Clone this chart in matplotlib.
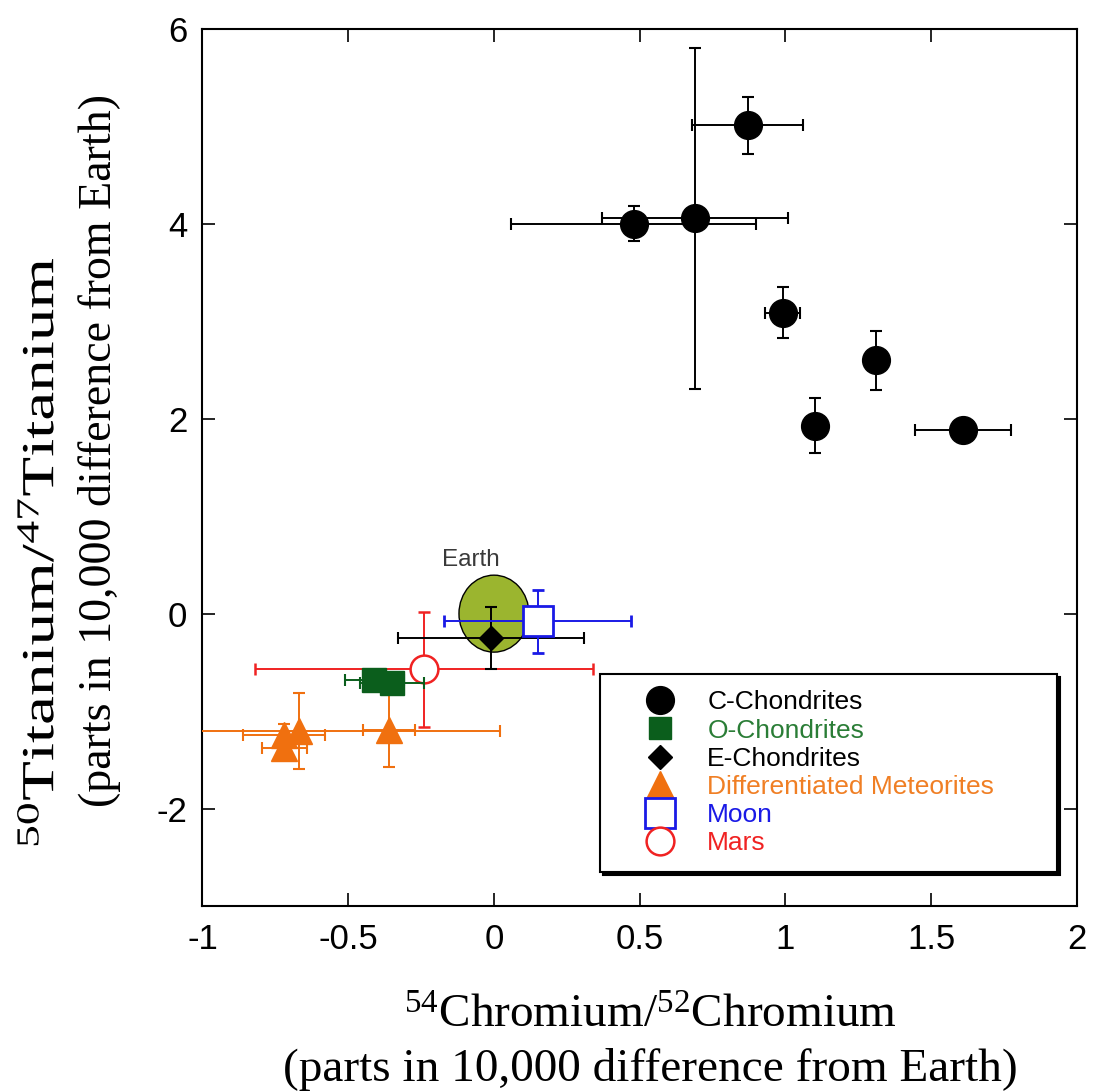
import matplotlib
matplotlib.use("Agg")
import matplotlib.pyplot as plt
from matplotlib.lines import Line2D
from matplotlib.patches import Ellipse
from matplotlib.patheffects import AbstractPathEffect
from matplotlib.transforms import Affine2D

plt.rcParams['font.family'] = ['Liberation Sans', 'DejaVu Sans']
plt.rcParams['axes.unicode_minus'] = False
plt.rcParams['mathtext.fontset'] = 'custom'
plt.rcParams['mathtext.rm'] = 'Liberation Serif'
plt.rcParams['mathtext.it'] = 'Liberation Serif:italic'
plt.rcParams['mathtext.bf'] = 'Liberation Serif:bold'

# ---- data ----
c_x = [0.87, 0.48, 0.69, 0.99, 1.31, 1.10, 1.61]
c_y = [5.01, 4.00, 4.06, 3.09, 2.60, 1.93, 1.88]
c_xerr = [0.19, 0.42, 0.32, 0.06, 0.0, 0.0, 0.165]
c_yerr = [0.29, 0.18, 1.75, 0.26, 0.30, 0.28, 0.0]

o_x = [-0.41, -0.35]
o_y = [-0.68, -0.71]
o_xerr = [0.10, 0.11]

e_x = [-0.01]
e_y = [-0.25]
e_xerr = [0.32]
e_yerr = [0.32]

d_x = [-0.36, -0.67, -0.72, -0.72]
d_y = [-1.19, -1.20, -1.25, -1.38]
d_xerr = [0.09, 0.69, 0.14, 0.077]
d_yerr = [0.38, 0.39, 0.12, 0.08]

moon_x = [0.15]
moon_y = [-0.08]
moon_xerr = [0.32]
moon_yerr = [0.32]

mars_x = [-0.24]
mars_y = [-0.57]
mars_xerr = [0.58]
mars_yerr = [0.59]

earth_xy = (0.0, 0.0)
earth_w = 0.24
earth_h = 0.79

xticks = [-1, -0.5, 0, 0.5, 1, 1.5, 2]
xticklabels = ['-1', '-0.5', '0', '0.5', '1', '1.5', '2']
yticks = [-2, 0, 2, 4, 6]
yticklabels = ['-2', '0', '2', '4', '6']

legend_labels = ['C-Chondrites', 'O-Chondrites', 'E-Chondrites',
                 'Differentiated Meteorites', 'Moon', 'Mars']

# ---- colours ----
GREEN = '#0b5e1c'
GREEN_TXT = '#2a7d36'
ORANGE = '#f0700f'
ORANGE_TXT = '#f07f24'
BLUE = '#1a1ae6'
RED = '#f02222'
EARTH = '#9bb52f'


class StretchText(AbstractPathEffect):
    """Stretch a text along its own baseline direction (about its centre)."""
    def __init__(self, sx=1.0):
        super().__init__()
        self.sx = sx

    def draw_path(self, renderer, gc, tpath, affine, rgbFace=None):
        ext = tpath.get_extents()
        cx = (ext.x0 + ext.x1) / 2.0
        t = Affine2D().translate(-cx, 0).scale(self.sx, 1).translate(cx, 0) + affine
        renderer.draw_path(gc, tpath, t, rgbFace)


fig = plt.figure(figsize=(10.95, 10.91), dpi=100)
ax = fig.add_axes([0.1849, 0.1696, 0.7986, 0.8038])

# Earth
ax.add_patch(Ellipse(earth_xy, earth_w, earth_h, facecolor=EARTH,
                     edgecolor='black', linewidth=1.0, zorder=2))
ax.text(earth_xy[0] - 0.08, 0.55, 'Earth', ha='center', va='center',
        fontsize=17.5, color='#3a3a3a', zorder=5)

eb = dict(linestyle='none', capsize=4, capthick=1.5, elinewidth=1.4)

ax.errorbar(c_x, c_y, xerr=c_xerr, yerr=c_yerr, marker='o', ms=20,
            color='black', ecolor='black', zorder=3, **eb)
ax.errorbar(d_x, d_y, xerr=d_xerr, yerr=d_yerr, marker='^', ms=19,
            color=ORANGE, ecolor=ORANGE, zorder=3, **eb)
ax.errorbar(mars_x, mars_y, xerr=mars_xerr, yerr=mars_yerr, marker='o',
            ms=20, mfc='white', mec=RED, mew=1.8, color=RED, ecolor=RED,
            zorder=3, **eb)
ax.errorbar(o_x, o_y, xerr=o_xerr, marker='s', ms=17,
            color=GREEN, ecolor=GREEN, zorder=4, **eb)
ax.errorbar(e_x, e_y, xerr=e_xerr, yerr=e_yerr, marker='D', ms=12.5,
            color='black', ecolor='black', zorder=4, **eb)
ax.errorbar(moon_x, moon_y, xerr=moon_xerr, yerr=moon_yerr, marker='s',
            ms=21, mfc='white', mec=BLUE, mew=2.0, color=BLUE, ecolor=BLUE,
            zorder=4, **eb)

ax.set_xlim(-1, 2)
ax.set_ylim(-3, 6)
ax.set_xticks(xticks)
ax.set_xticklabels(xticklabels)
ax.set_yticks(yticks)
ax.set_yticklabels(yticklabels)
ax.tick_params(direction='in', length=9.5, width=1.2, top=True, right=True,
               labelsize=25)
ax.tick_params(axis='x', pad=12)
ax.tick_params(axis='y', pad=11)
for s in ax.spines.values():
    s.set_linewidth(1.5)

# legend
handles = [
    Line2D([], [], ls='none', marker='o', ms=20, color='black'),
    Line2D([], [], ls='none', marker='s', ms=16, color=GREEN),
    Line2D([], [], ls='none', marker='D', ms=12.5, color='black'),
    Line2D([], [], ls='none', marker='^', ms=20, color=ORANGE),
    Line2D([], [], ls='none', marker='s', ms=22, mfc='white', mec=BLUE, mew=2.0),
    Line2D([], [], ls='none', marker='o', ms=20, mfc='white', mec=RED, mew=1.8),
]
leg = ax.legend(handles, legend_labels, loc='upper left',
                bbox_to_anchor=(0.4545, 0.0433, 0.5225, 0.2212), mode='expand',
                borderaxespad=0.0,
                fontsize=19, labelspacing=0.16, borderpad=0.62,
                handlelength=3.3, handletextpad=0.15, fancybox=False,
                framealpha=1, edgecolor='black',
                shadow={'color': 'black', 'alpha': 1},
                labelcolor=['black', GREEN_TXT, 'black', ORANGE_TXT, BLUE, RED])
leg.get_frame().set_linewidth(1.5)

# axis labels
fig.text(0.5936, 0.0680, r'$^{54}$Chromium/$^{52}$Chromium', ha='center',
         va='center', fontsize=34, family='Liberation Serif')
fig.text(0.5936, 0.0195, '(parts in 10,000 difference from Earth)', ha='center',
         va='center', fontsize=34, family='Liberation Serif')
fig.text(0.0384, 0.494, r'$^{50}$Titanium/$^{47}$Titanium', ha='center',
         va='center', fontsize=33, rotation=90, family='Liberation Serif',
         path_effects=[StretchText(1.42)])
fig.text(0.0913, 0.5875, '(parts in 10,000 difference from Earth)', ha='center',
         va='center', fontsize=33, rotation=90, family='Liberation Serif')

fig.savefig('out.png', dpi=100)
